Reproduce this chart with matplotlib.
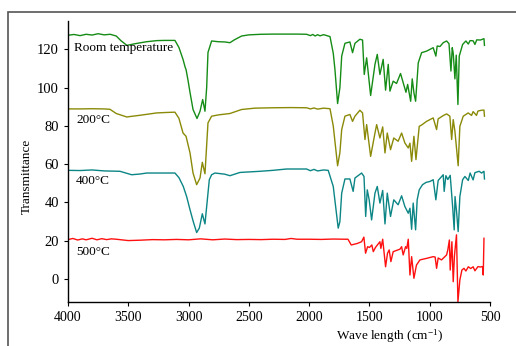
import numpy as np
import matplotlib
matplotlib.use('Agg')
import matplotlib.pyplot as plt
from matplotlib.patches import Rectangle

plt.rcParams['font.family'] = ['Liberation Serif', 'DejaVu Serif']
plt.rcParams['mathtext.fontset'] = 'stix'

# Room temperature spectrum
wn_rt = [4000, 3950, 3900, 3850, 3800, 3750, 3700, 3650, 3600, 3560, 3511, 3450, 3350, 3262, 3200, 3113,
         3080, 3046, 3028, 3021, 3005, 2988, 2963, 2930, 2905, 2883, 2864, 2850, 2839, 2809, 2750, 2700,
         2657, 2620, 2560, 2500, 2400, 2300, 2200, 2100, 2021, 1990, 1970, 1950, 1930, 1910, 1880, 1827,
         1800, 1786, 1764, 1745, 1730, 1703, 1662, 1640, 1620, 1579, 1557, 1543, 1523, 1490, 1454, 1435,
         1413, 1386, 1366, 1344, 1330, 1303, 1275, 1242, 1220, 1197, 1183, 1158, 1145, 1131, 1117, 1095,
         1067, 1026, 971, 949, 938, 915, 888, 860, 840, 824, 813, 805, 791, 780, 766, 755, 727, 700, 680,
         665, 640, 625, 610, 580, 550, 546]
t_rt = [127.4, 127.8, 127.2, 127.9, 127.5, 128.2, 127.6, 127.9, 127.0, 124.5, 122.1, 122.9, 124.0, 124.6, 124.7, 124.7,
        121.0, 114.8, 110.6, 109.5, 104.0, 97.5, 88.6, 83.9, 87.7, 93.8, 87.7, 100.0, 118.4, 124.4, 124.0, 123.9,
        123.5, 125.0, 127.0, 127.6, 127.9, 128.0, 128.0, 128.0, 127.9, 127.2, 127.8, 127.0, 127.7, 127.1, 127.7, 126.7,
        118.0, 109.5, 91.7, 100.0, 116.5, 123.2, 123.9, 118.3, 123.2, 125.3, 124.9, 106.9, 115.6, 95.9, 112.2, 117.4,
        106.9, 114.8, 98.7, 112.2, 98.2, 103.4, 102.2, 107.4, 102.6, 97.6, 101.7, 92.9, 104.6, 97.3, 92.9, 113.0,
        118.3, 119.1, 120.9, 116.5, 121.8, 121.5, 123.5, 124.4, 123.0, 108.7, 120.9, 118.0, 104.6, 117.0, 91.2, 116.5, 122.6, 124.4, 122.8,
        124.6, 124.5, 122.6, 125.0, 124.9, 125.6, 122.1]

# 200 C spectrum
wn_200 = [4000, 3900, 3800, 3700, 3652, 3600, 3513, 3400, 3265, 3200, 3113, 3080, 3046, 3021, 2988, 2963,
          2933, 2905, 2886, 2864, 2839, 2809, 2750, 2657, 2560, 2450, 2300, 2150, 2021, 1990, 1960, 1930,
          1880, 1827, 1800, 1764, 1745, 1730, 1703, 1662, 1640, 1620, 1579, 1557, 1537, 1523, 1490, 1454,
          1440, 1413, 1390, 1371, 1352, 1325, 1298, 1262, 1233, 1206, 1178, 1164, 1150, 1131, 1114, 1087,
          1067, 1026, 971, 943, 930, 888, 860, 833, 818, 805, 791, 764, 750, 722, 681, 653, 640, 612, 600, 570, 550, 546]
t_200 = [88.9, 88.9, 89.0, 88.9, 88.7, 86.5, 84.7, 85.6, 86.8, 87.0, 87.2, 84.0, 76.3, 74.6, 65.9, 55.4,
         49.3, 52.8, 61.0, 55.0, 81.6, 85.1, 85.8, 86.5, 88.6, 89.3, 89.5, 89.6, 89.5, 88.9, 89.4, 88.8,
         89.3, 89.0, 80.0, 59.2, 66.0, 78.1, 85.1, 86.0, 82.4, 85.1, 88.2, 86.8, 72.9, 80.7, 64.1, 76.3,
         80.7, 73.7, 79.5, 65.9, 76.3, 67.6, 73.7, 72.0, 76.3, 71.1, 68.5, 71.0, 61.5, 74.6, 62.4, 79.8,
         80.5, 82.4, 84.2, 78.1, 83.7, 85.4, 86.3, 85.1, 72.9, 83.3, 77.2, 59.2, 79.8, 85.1, 86.8, 85.5, 87.5, 85.5, 87.8, 88.2, 88.3, 85.1]

# 400 C spectrum
wn_400 = [4000, 3900, 3800, 3700, 3569, 3472, 3400, 3347, 3200, 3113, 3080, 3044, 3016, 2988, 2961, 2933,
          2911, 2886, 2864, 2828, 2809, 2781, 2700, 2657, 2574, 2408, 2300, 2187, 2021, 1990, 1960, 1930,
          1880, 1842, 1800, 1759, 1745, 1730, 1703, 1662, 1635, 1620, 1565, 1545, 1531, 1518, 1502, 1482,
          1454, 1435, 1413, 1390, 1371, 1352, 1325, 1298, 1262, 1233, 1206, 1178, 1164, 1150, 1137, 1117,
          1104, 1087, 1060, 1030, 998, 971, 949, 930, 888, 880, 866, 850, 830, 810, 797, 790, 777, 764, 750,
          727, 708, 680, 665, 640, 625, 590, 570, 550, 546]
t_400 = [56.8, 56.7, 57.0, 56.5, 56.3, 54.5, 54.9, 55.4, 55.4, 55.4, 53.0, 48.4, 43.1, 36.2, 30.0, 24.3,
         26.6, 34.1, 28.8, 51.9, 54.5, 55.4, 54.8, 54.0, 55.7, 56.3, 56.8, 57.5, 57.5, 56.6, 57.3, 56.5,
         57.0, 56.8, 48.4, 26.6, 30.0, 44.9, 52.3, 52.3, 45.8, 52.8, 55.4, 53.6, 32.7, 46.6, 41.4, 30.9,
         44.9, 48.4, 39.7, 46.3, 28.8, 44.9, 32.7, 41.4, 38.8, 43.5, 37.9, 34.4, 37.0, 26.0, 39.7, 25.7,
         41.4, 46.6, 49.3, 50.5, 51.0, 51.9, 41.4, 51.5, 54.5, 45.8, 54.0, 52.0, 54.2, 37.9, 25.7, 43.1, 35.0, 24.8, 43.1,
         51.9, 53.6, 51.5, 55.4, 51.8, 55.6, 56.3, 55.4, 56.3, 52.3]

# 500 C spectrum
wn_500 = [4000, 3960, 3920, 3880, 3850, 3800, 3760, 3720, 3680, 3640, 3600, 3500, 3400, 3300, 3200, 3100,
          3000, 2900, 2800, 2700, 2600, 2500, 2400, 2300, 2200, 2150, 2100, 2000, 1900, 1800, 1700, 1678,
          1651, 1600, 1565, 1546, 1532, 1515, 1500, 1480, 1468, 1450, 1413, 1405, 1390, 1366, 1350, 1336,
          1322, 1303, 1247, 1233, 1220, 1200, 1190, 1178, 1164, 1150, 1131, 1110, 1081, 1026, 971, 955, 943,
          930, 902, 860, 850, 837, 830, 816, 805, 795, 778, 766, 750, 733, 716, 700, 680, 660, 640, 625,
          600, 580, 562, 556, 550]
t_500 = [20.6, 21.2, 20.4, 21.0, 20.5, 21.3, 20.5, 21.1, 20.6, 21.0, 20.8, 20.1, 20.3, 20.6, 20.5, 20.7,
         20.5, 21.0, 20.5, 20.9, 20.6, 20.7, 20.6, 20.8, 20.7, 21.2, 20.8, 20.8, 20.7, 20.9, 20.8, 20.8,
         17.8, 18.6, 19.5, 21.9, 13.5, 16.9, 16.5, 17.8, 14.3, 16.5, 19.5, 16.0, 20.8, 6.4, 13.5, 15.2,
         9.1, 14.3, 15.6, 16.9, 12.6, 16.9, 16.0, 20.8, 2.1, 11.7, 0.4, 7.3, 10.0, 10.8, 11.7, 11.5, 5.6,
         11.0, 10.0, 12.6, 15.2, 20.4, 4.7, 19.5, -1.4, 12.0, 23.1, -11.9, -0.5, 4.7, 5.6, 4.2, 6.4, 5.5, 6.4, 4.3,
         6.5, 6.3, 6.5, 2.1, 21.3]

series = [(wn_rt, t_rt, '#158c15'), (wn_200, t_200, '#8a8a08'),
          (wn_400, t_400, '#0c8585'), (wn_500, t_500, '#ff1010')]
labels = [('Room temperature', 3950, 120.5), ('200°C', 3934, 83.3),
          ('400°C', 3934, 51.4), ('500°C', 3934, 14.3)]
yticks = [0, 20, 40, 60, 80, 100, 120]
xticks = [4000, 3500, 3000, 2500, 2000, 1500, 1000, 500]

fig = plt.figure(figsize=(5.16, 3.46), dpi=100)
fig.patches.append(Rectangle((8/516, -0.1), 1.2, (346-12)/346 + 0.1, transform=fig.transFigure,
                             fill=False, edgecolor='#555555', linewidth=1.2))
ax = fig.add_axes([68/516, 44/346, 422/516, 281.3/346])

for wn, t, c in series:
    ax.plot(wn, t, color=c, lw=1.0)

for txt, x, y in labels:
    ax.text(x, y, txt, fontsize=9.5, va='center', ha='left')

ax.set_xlim(4000, 500)
ax.set_ylim(-12, 135)
ax.set_xticks(xticks)
ax.set_yticks(yticks)
ax.tick_params(direction='out', length=3, width=0.8, labelsize=10)
ax.tick_params(axis='y', labelsize=10.5)
for s in ['top', 'right']:
    ax.spines[s].set_visible(False)
for s in ['left', 'bottom']:
    ax.spines[s].set_linewidth(1.0)

fig.text(27/516, 1 - 176.7/346, 'Transmittance', rotation=90, ha='center', va='center', fontsize=9.5)
fig.text(390/516, 1 - 337/346, r'Wave length (cm$^{\mathregular{-1}}$)', ha='center', va='center', fontsize=9.5)

fig.savefig('out.png', dpi=100)
